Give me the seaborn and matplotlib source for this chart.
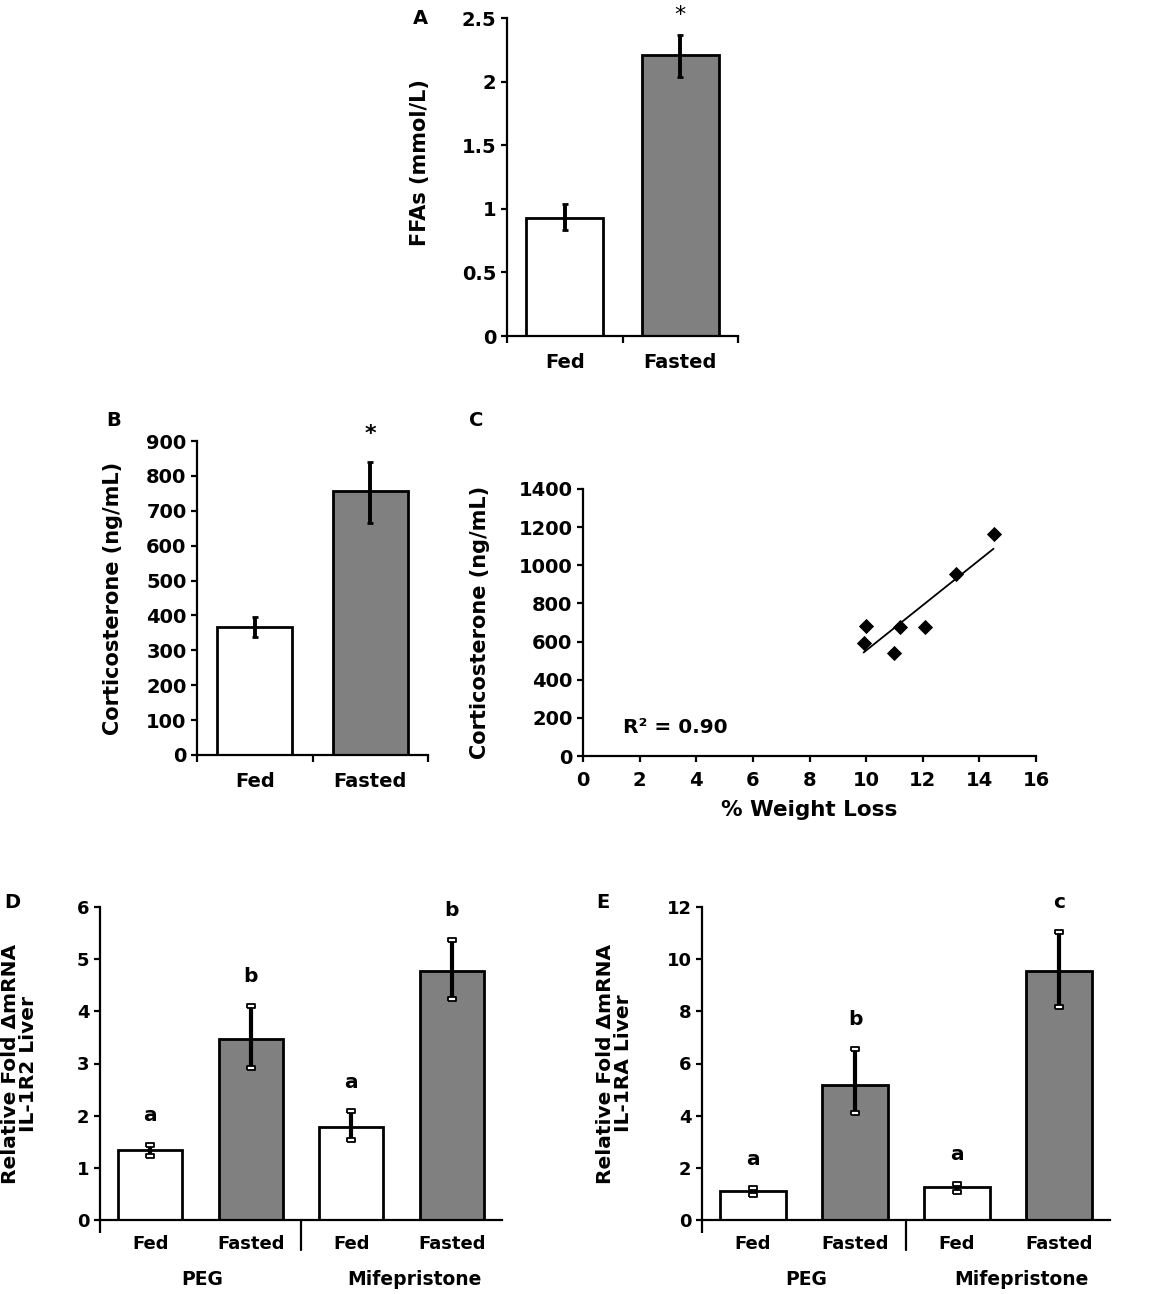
import numpy as np
import pandas as pd
import matplotlib
matplotlib.use("Agg")
import matplotlib.pyplot as plt
import seaborn as sns

# values
ffa_groups = ["Fed", "Fasted"]
ffa_mean = [0.93, 2.21]
ffa_low = [0.83, 2.04]
ffa_high = [1.04, 2.37]

cort_groups = ["Fed", "Fasted"]
cort_mean = [368, 756]
cort_low = [337, 666]
cort_high = [396, 841]

weight_loss = [9.91, 10.0, 10.97, 11.2, 12.09, 13.17, 14.5]
cort_indiv = [590, 683, 538, 675, 675, 953, 1163]

il_keys = ["PEG Fed", "PEG Fasted", "Mife Fed", "Mife Fasted"]
il_cond = ["Fed", "Fasted", "Fed", "Fasted"]
il_treat = ["PEG", "Mifepristone"]

r2_mean = [1.34, 3.47, 1.79, 4.78]
r2_low = [1.22, 2.92, 1.53, 4.24]
r2_high = [1.44, 4.11, 2.08, 5.37]
r2_letters = ["a", "b", "a", "b"]

ra_mean = [1.12, 5.18, 1.25, 9.55]
ra_low = [0.97, 4.09, 1.07, 8.17]
ra_high = [1.21, 6.55, 1.39, 11.06]
ra_letters = ["a", "b", "a", "c"]

sns.set_style("white")
plt.rcParams["font.family"] = ["DejaVu Sans"]
plt.rcParams["font.weight"] = "bold"
plt.rcParams["axes.labelweight"] = "bold"
for k in ["text.color", "axes.labelcolor", "xtick.color", "ytick.color", "axes.edgecolor"]:
    plt.rcParams[k] = "black"

W, H = 1158, 1294
fig = plt.figure(figsize=(W / 100, H / 100), dpi=100)


def px_axes(left, top, right, bottom):
    # axes box given in pixel positions of the reference
    return fig.add_axes([left / W, 1 - bottom / H, (right - left) / W, (bottom - top) / H])


pal = {"Fed": "white", "Fasted": "grey"}
cap_box = [(-1, -0.55), (1, -0.55), (1, 0.55), (-1, 0.55), (-1, -0.55)]


def bar_panel(ax, keys, conds, mean, low, high, width, elw, tick_fs, xfs, box_caps=False):
    df = pd.DataFrame({"key": keys, "cond": conds, "val": mean})
    sns.barplot(data=df, x="key", y="val", hue="cond", palette=pal, dodge=False,
                width=width, edgecolor="black", linewidth=2, legend=False, ax=ax)
    m = np.array(mean)
    yerr = [m - np.array(low), np.array(high) - m]
    xs = np.arange(len(keys))
    if box_caps:
        ax.errorbar(xs, m, yerr=yerr, fmt="none", ecolor="black", elinewidth=elw, capsize=0)
        for ends in (low, high):
            ax.plot(xs, ends, ls="none", marker=cap_box, ms=6, mfc="white", mec="black",
                    mew=1.3, zorder=5)
    else:
        ax.errorbar(xs, m, yerr=yerr, fmt="none", ecolor="black",
                    elinewidth=elw, capsize=2.5, capthick=2)
    ax.set_xlim(-0.5, len(keys) - 0.5)
    ax.set_xlabel("")
    sns.despine(ax=ax)
    for s in ["left", "bottom"]:
        ax.spines[s].set_linewidth(1.6)
    ax.tick_params(axis="y", direction="out", length=4.5, width=1.6, pad=3,
                   labelsize=tick_fs, left=True)
    ax.tick_params(axis="x", which="major", length=0, pad=12, labelsize=xfs)


# ---- A ----
axA = px_axes(507, 18, 738, 336)
bar_panel(axA, ffa_groups, ffa_groups, ffa_mean, ffa_low, ffa_high, 0.67, 2.8, 14, 14)
axA.set_ylim(0, 2.5)
axA.set_yticks([0, 0.5, 1, 1.5, 2, 2.5])
axA.set_yticklabels(["0", "0.5", "1", "1.5", "2", "2.5"])
axA.set_xticks([-0.5, 0.5, 1.5], minor=True)
axA.tick_params(axis="x", which="minor", direction="out", length=5, width=1.6, bottom=True)
axA.set_ylabel("FFAs (mmol/L)", fontsize=15)
axA.yaxis.set_label_coords(-0.333, 0.545)
axA.text(1, 2.476, "*", ha="center", va="baseline", fontsize=16, fontweight="normal",
         clip_on=False)

# ---- B ----
axB = px_axes(197, 441, 428, 755)
bar_panel(axB, cort_groups, cort_groups, cort_mean, cort_low, cort_high, 0.65, 2.8, 14, 14)
axB.set_ylim(0, 900)
axB.set_yticks(range(0, 901, 100))
axB.set_xticks([-0.5, 0.5, 1.5], minor=True)
axB.tick_params(axis="x", which="minor", direction="out", length=5, width=1.6, bottom=True)
axB.set_ylabel("Corticosterone (ng/mL)", fontsize=15)
axB.yaxis.set_label_coords(-0.32, 0.5)
axB.text(1, 903, "*", ha="center", va="baseline", fontsize=16, clip_on=False)

# ---- C ----
axC = px_axes(583, 489, 1036, 756)
sns.regplot(x=weight_loss, y=cort_indiv, ax=axC, ci=None, marker="D", color="black",
            scatter_kws={"s": 60, "linewidths": 0, "alpha": 1}, line_kws={"lw": 1.3})
axC.set_xlim(0, 16)
axC.set_ylim(0, 1400)
axC.set_xticks(range(0, 17, 2))
axC.set_yticks(range(0, 1401, 200))
sns.despine(ax=axC)
for s in ["left", "bottom"]:
    axC.spines[s].set_linewidth(1.6)
axC.tick_params(axis="both", direction="out", length=4.5, width=1.6, pad=3, labelsize=14,
                left=True, bottom=True)
axC.tick_params(axis="x", pad=6)
axC.set_xlabel("% Weight Loss", fontsize=15.5)
axC.xaxis.set_label_coords(0.5, -0.165)
axC.set_ylabel("Corticosterone (ng/mL)", fontsize=15)
axC.yaxis.set_label_coords(-0.205, 0.5)
axC.text(1.4, 152, "R² = 0.90", ha="left", va="center", fontsize=14.5)


# ---- D / E ----
def il_panel(ax, mean, low, high, letters, ymax, step, ylabel, label_x):
    bar_panel(ax, il_keys, il_cond, mean, low, high, 0.64, 3, 13, 13, box_caps=True)
    ax.set_ylim(0, ymax)
    ax.set_yticks(np.arange(0, ymax + 0.1, step))
    ax.set_xticks(range(4))
    ax.set_xticklabels(il_cond)
    ax.tick_params(axis="x", which="major", pad=11)
    ax.set_xticks([-0.5], minor=True)
    ax.tick_params(axis="x", which="minor", direction="out", length=9, width=1.6, bottom=True)
    tr = ax.get_xaxis_transform()
    ax.plot([1.5, 1.5], [0, -0.096], transform=tr, color="black", lw=1.6, clip_on=False)
    for i, (h, lt) in enumerate(zip(high, letters)):
        ax.annotate(lt, (i, h), xytext=(0, 21), textcoords="offset points",
                    ha="center", va="center", fontsize=14.5, annotation_clip=False)
    ax.text(0.52, -0.19, il_treat[0], transform=tr, ha="center", va="center", fontsize=13.5)
    ax.text(2.63, -0.19, il_treat[1], transform=tr, ha="center", va="center", fontsize=13.5)
    ax.set_ylabel(ylabel, fontsize=14.5, linespacing=0.95)
    ax.yaxis.set_label_coords(label_x, 0.5)


axD = px_axes(100, 907, 502, 1220)
il_panel(axD, r2_mean, r2_low, r2_high, r2_letters, 6, 1,
         "Relative Fold ΔmRNA\nIL-1R2 Liver", -0.154)
axE = px_axes(702, 907, 1110, 1220)
il_panel(axE, ra_mean, ra_low, ra_high, ra_letters, 12, 2,
         "Relative Fold ΔmRNA\nIL-1RA Liver", -0.169)

# panel letters
for lt, x, y in [("A", 420, 18), ("B", 114, 421), ("C", 476, 421), ("D", 12, 903), ("E", 603, 903)]:
    fig.text(x / W, 1 - y / H, lt, ha="center", va="center", fontsize=14, fontweight="bold")

fig.savefig("out.png", dpi=100)
